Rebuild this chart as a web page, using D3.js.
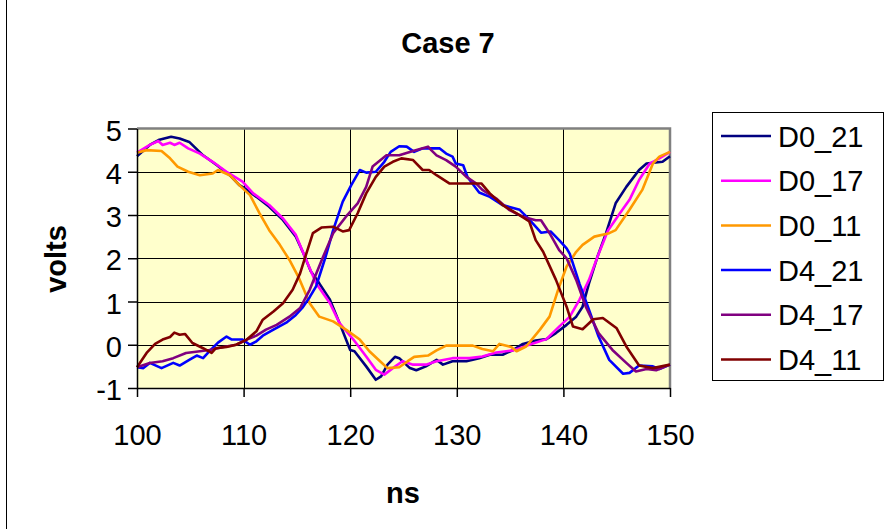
<!DOCTYPE html>
<html>
<head>
<meta charset="utf-8">
<script src="https://cdn.jsdelivr.net/npm/d3@7"></script>
<style>
  body { margin: 0; background: #fff; }
  text { font-family: "Liberation Sans", Arial, sans-serif; fill: #000; }
</style>
</head>
<body>
<div id="chart"></div>
<script>
// series as [ns, volts] pairs
const d0_21 = [[100,4.36],[101.2,4.62],[102.1,4.74],[103.2,4.81],[104,4.77],[104.9,4.69],[106.2,4.38],[107.5,4.15],[108.7,3.92],[109.6,3.69],[110.1,3.62],[111.2,3.42],[112.4,3.19],[113.7,2.88],[114.9,2.5],[115.6,2.12],[116.3,1.7],[117.1,1.42],[118.1,1.04],[119,0.5],[120,-0.12],[120.4,-0.15],[121.5,-0.5],[122.4,-0.81],[122.9,-0.73],[123.5,-0.46],[124.2,-0.28],[124.6,-0.31],[125.6,-0.54],[126.2,-0.59],[127.1,-0.5],[128.1,-0.35],[128.7,-0.46],[129.6,-0.38],[130.9,-0.38],[132.1,-0.31],[133.1,-0.23],[134.3,-0.23],[135.3,-0.12],[136.2,0.02],[137.4,0.1],[138.4,0.13],[139.3,0.27],[140.3,0.46],[141.2,0.65],[141.8,0.88],[142.4,1.42],[143.2,2.04],[144,2.58],[144.9,3.27],[145.9,3.65],[147.1,4.04],[147.8,4.19],[149.3,4.23],[150,4.36]];
const d0_17 = [[100,4.44],[101.2,4.62],[102,4.71],[102.4,4.62],[103.1,4.67],[103.5,4.62],[104,4.67],[104.8,4.54],[105.9,4.42],[107.1,4.23],[108.4,4.0],[109.9,3.77],[110.9,3.5],[112.4,3.23],[113.7,2.92],[114.9,2.54],[115.6,2.12],[116.8,1.42],[118.1,0.96],[119,0.5],[120.3,0.12],[121.5,-0.27],[122.4,-0.58],[123.2,-0.69],[124,-0.54],[124.9,-0.38],[125.9,-0.46],[127.1,-0.46],[128.1,-0.38],[129.6,-0.31],[131.2,-0.31],[132.4,-0.27],[133.7,-0.18],[135.3,-0.13],[136.8,0.0],[138.4,0.13],[139.6,0.42],[140.6,0.65],[141.5,1.04],[142.4,1.5],[143.3,2.1],[144.2,2.65],[145.3,3.04],[146.2,3.35],[147.1,3.81],[148.1,4.19],[149,4.31],[150,4.46]];
const d0_11 = [[100,4.44],[100.9,4.5],[102.3,4.48],[103.1,4.31],[103.8,4.12],[104.8,4.0],[105.9,3.92],[107.1,3.96],[107.6,4.04],[108.7,3.92],[109.6,3.69],[110.6,3.46],[111.5,3.04],[112.4,2.65],[113.4,2.31],[114.3,1.96],[115.2,1.54],[116.2,0.96],[117.1,0.65],[118.4,0.54],[119.6,0.35],[120.9,0.12],[121.8,-0.15],[122.8,-0.38],[123.5,-0.54],[124.6,-0.52],[125.4,-0.38],[126,-0.28],[127.3,-0.25],[128.1,-0.13],[129,-0.02],[131.5,-0.02],[132.4,-0.1],[133.4,-0.15],[134,0.02],[135.1,-0.05],[135.6,-0.15],[136.5,-0.04],[137.8,0.35],[138.7,0.65],[139.5,1.27],[140.3,1.81],[141.2,2.15],[141.8,2.31],[142.9,2.5],[144.3,2.58],[144.9,2.65],[146.2,3.12],[147.4,3.58],[148.4,4.19],[149,4.35],[150,4.46]];
const d4_21 = [[100,-0.52],[100.6,-0.54],[101.2,-0.42],[102.3,-0.54],[103.4,-0.42],[104,-0.48],[104.9,-0.35],[105.6,-0.25],[106.2,-0.31],[106.8,-0.15],[107.6,0.05],[108.4,0.19],[108.9,0.12],[109.9,0.12],[110.6,0.0],[111.2,0.08],[111.8,0.21],[112.8,0.35],[114,0.51],[114.9,0.69],[115.5,0.85],[116.2,1.1],[116.8,1.35],[117.7,2.04],[118.4,2.65],[119.3,3.31],[120.1,3.69],[120.9,4.04],[121.5,3.98],[122.4,4.0],[123.2,4.23],[123.8,4.46],[124.6,4.59],[125.3,4.58],[126,4.46],[126.8,4.54],[128.4,4.54],[129,4.42],[129.6,4.35],[129.9,4.19],[130.6,4.15],[131,3.88],[132.1,3.52],[133.1,3.42],[134.3,3.23],[135.9,3.12],[136.7,2.92],[137.4,2.73],[137.9,2.59],[138.8,2.62],[139.6,2.42],[140.3,2.23],[140.6,2.1],[141.5,1.42],[142.4,0.81],[143.3,0.19],[144.3,-0.35],[145.6,-0.67],[146.2,-0.65],[147.1,-0.48],[148.4,-0.5],[149,-0.56],[150,-0.46]];
const d4_17 = [[100,-0.52],[101.2,-0.42],[102.4,-0.38],[103.4,-0.31],[104.6,-0.19],[105.9,-0.15],[106.8,-0.12],[108.1,-0.05],[109.3,0.0],[110.3,0.12],[111.2,0.21],[112.1,0.35],[113.1,0.46],[114.3,0.65],[115.3,0.85],[116.2,1.27],[117.4,2.0],[118.4,2.58],[119.6,2.96],[120.7,3.27],[121.5,3.65],[122.1,4.12],[123.4,4.38],[124.6,4.38],[125.9,4.48],[127.3,4.58],[127.6,4.5],[128.1,4.38],[129,4.27],[129.9,4.12],[130.9,3.88],[131.8,3.73],[132.4,3.58],[133.7,3.38],[134.9,3.12],[136.2,2.96],[137.4,2.88],[137.9,2.88],[138.7,2.58],[139.6,2.19],[140.3,2.0],[141.2,1.5],[142.1,0.88],[143.3,0.27],[144.6,-0.12],[145.9,-0.42],[146.8,-0.62],[147.8,-0.56],[148.7,-0.59],[150,-0.46]];
const d4_11 = [[100,-0.52],[100.9,-0.19],[101.7,0.02],[102.4,0.12],[103.1,0.18],[103.5,0.28],[104,0.23],[104.5,0.25],[105.2,0.04],[106.2,-0.08],[107,-0.19],[107.4,-0.08],[108.4,-0.05],[109.3,0.0],[110.3,0.12],[111.2,0.31],[111.8,0.58],[112.8,0.77],[113.7,0.96],[114.6,1.27],[115.3,1.65],[115.9,2.12],[116.5,2.58],[117.3,2.71],[118.4,2.73],[119.3,2.62],[119.9,2.65],[120.7,3.04],[121.5,3.5],[122.4,3.88],[123.2,4.12],[124,4.23],[124.8,4.31],[125.9,4.27],[126.8,4.04],[127.4,4.04],[128.1,3.92],[129.3,3.73],[132.3,3.73],[133.1,3.5],[134.3,3.23],[135.6,3.04],[136.8,2.85],[137.4,2.42],[138.1,2.15],[139.3,1.5],[140.3,0.88],[140.9,0.42],[141.8,0.36],[142.8,0.59],[143.7,0.62],[145,0.38],[145.9,-0.04],[147.1,-0.48],[148.4,-0.54],[150,-0.46]];

const seriesNames = ["D0_21", "D0_17", "D0_11", "D4_21", "D4_17", "D4_11"];
const seriesData = [d0_21, d0_17, d0_11, d4_21, d4_17, d4_11];
const seriesColors = ["#000080", "#ff00ff", "#ff9900", "#0000ff", "#800080", "#800000"];
const xTicks = [100, 110, 120, 130, 140, 150];
const yTicks = [-1, 0, 1, 2, 3, 4, 5];

const W = 885, H = 529;
const plotLeft = 137, plotRight = 670, plotTop = 128.5, plotBottom = 388;
const fontSize = 29;

const svg = d3.select("#chart").append("svg")
  .attr("width", W)
  .attr("height", H);

svg.append("rect").attr("width", W).attr("height", H).attr("fill", "#fff");

// outer chart frame, only its left edge shows
svg.append("line")
  .attr("x1", 6.5).attr("x2", 6.5).attr("y1", 0).attr("y2", H)
  .attr("stroke", "#000").attr("stroke-width", 1);

const x = d3.scaleLinear().domain([100, 150]).range([plotLeft, plotRight]);
const y = d3.scaleLinear().domain([-1, 5]).range([plotBottom, plotTop]);

// plot area
svg.append("rect")
  .attr("x", plotLeft).attr("y", plotTop)
  .attr("width", plotRight - plotLeft).attr("height", plotBottom - plotTop)
  .attr("fill", "#ffffcc");

// gridlines
svg.append("g").selectAll("line").data(yTicks.slice(1, -1)).join("line")
  .attr("x1", plotLeft).attr("x2", plotRight)
  .attr("y1", d => Math.round(y(d)) + 0.5).attr("y2", d => Math.round(y(d)) + 0.5)
  .attr("stroke", "#000").attr("stroke-width", 1);
svg.append("g").selectAll("line").data(xTicks.slice(1, -1)).join("line")
  .attr("x1", d => Math.round(x(d)) + 0.5).attr("x2", d => Math.round(x(d)) + 0.5)
  .attr("y1", plotTop).attr("y2", plotBottom)
  .attr("stroke", "#000").attr("stroke-width", 1);

// gray border on top and right
svg.append("path")
  .attr("d", "M" + plotLeft + "," + plotTop + "H" + plotRight + "V" + plotBottom)
  .attr("fill", "none").attr("stroke", "#808080").attr("stroke-width", 2.5);

// lines
const line = d3.line().x(d => x(d[0])).y(d => y(d[1]));
svg.append("g").selectAll("path").data(seriesData).join("path")
  .attr("d", line)
  .attr("fill", "none")
  .attr("stroke", (d, i) => seriesColors[i])
  .attr("stroke-width", 2.6)
  .attr("stroke-linejoin", "round");

// axes
const xAxis = svg.append("g")
  .attr("transform", "translate(0," + plotBottom + ")")
  .call(d3.axisBottom(x).tickValues(xTicks).tickFormat(d => String(d))
    .tickSize(9).tickSizeOuter(0).tickPadding(27));
const yAxis = svg.append("g")
  .attr("transform", "translate(" + plotLeft + ",0)")
  .call(d3.axisLeft(y).tickValues(yTicks).tickFormat(d => String(d))
    .tickSize(9).tickSizeOuter(0).tickPadding(6));

[xAxis, yAxis].forEach(a => {
  a.select(".domain").attr("stroke", "#000").attr("stroke-width", 1.5);
  a.selectAll(".tick line").attr("stroke", "#000").attr("stroke-width", 1.5);
  a.selectAll("text")
    .style("font-family", '"Liberation Sans", Arial, sans-serif')
    .style("font-size", fontSize + "px")
    .attr("fill", "#000");
});
yAxis.selectAll("text").attr("dy", "0.4em");

// titles
svg.append("text")
  .attr("x", 448).attr("y", 53)
  .attr("text-anchor", "middle")
  .style("font-size", fontSize + "px").style("font-weight", "bold")
  .text("Case 7");
svg.append("text")
  .attr("x", 403).attr("y", 503)
  .attr("text-anchor", "middle")
  .style("font-size", fontSize + "px").style("font-weight", "bold")
  .text("ns");
svg.append("text")
  .attr("transform", "translate(66,259) rotate(-90)")
  .attr("text-anchor", "middle")
  .style("font-size", fontSize + "px").style("font-weight", "bold")
  .text("volts");

// legend
const legend = svg.append("g");
legend.append("rect")
  .attr("x", 712.5).attr("y", 112.5)
  .attr("width", 171).attr("height", 268)
  .attr("fill", "#fff").attr("stroke", "#000").attr("stroke-width", 1);
const rowY = i => 136 + i * 44.7;
const items = legend.selectAll("g.item").data(seriesNames).join("g").attr("class", "item");
items.append("line")
  .attr("x1", 721).attr("x2", 771)
  .attr("y1", (d, i) => rowY(i)).attr("y2", (d, i) => rowY(i))
  .attr("stroke", (d, i) => seriesColors[i]).attr("stroke-width", 2.5);
items.append("text")
  .attr("x", 778).attr("y", (d, i) => rowY(i) + 10.5)
  .style("font-size", fontSize + "px")
  .text(d => d);
</script>
</body>
</html>
